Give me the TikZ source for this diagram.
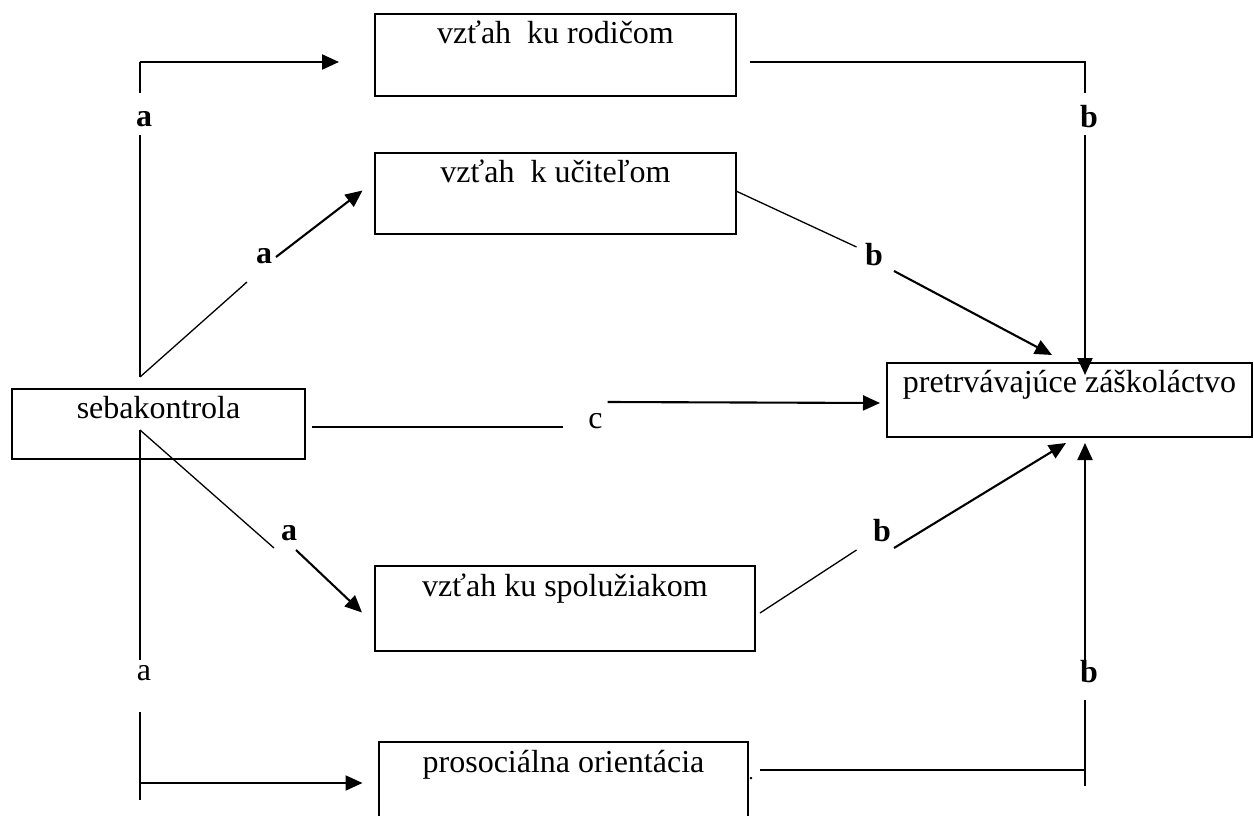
\documentclass[tikz,border=0pt]{standalone}
\usepackage{fontspec}
\setmainfont{Liberation Serif}
\usetikzlibrary{arrows.meta}
\begin{document}
\begin{tikzpicture}[x=1pt,y=-1pt,
  box/.style={draw, line width=1.7pt, inner sep=0pt},
  txt/.style={anchor=base, inner sep=0pt, font=\fontsize{32}{38}\selectfont},
  lab/.style={anchor=base, inner sep=0pt, font=\fontsize{32}{38}\selectfont\bfseries},
  labr/.style={anchor=base, inner sep=0pt, font=\fontsize{32}{38}\selectfont},
  thinln/.style={line width=1.3pt},
  arr/.style={line width=2.1pt, -{Triangle[length=17pt,width=15pt]}}]
\useasboundingbox (0,0) rectangle (1254,816);
\clip (0,0) rectangle (1254,816);

% boxes
\node[box, minimum width=361pt, minimum height=82pt] (rod) at (555.5,55) {};
\node[box, minimum width=361pt, minimum height=81pt] (uci) at (555.5,193.5) {};
\node[box, minimum width=293pt, minimum height=70pt] (seb) at (158.5,424) {};
\node[box, minimum width=365pt, minimum height=74pt] (pret) at (1069.5,400) {};
\node[box, minimum width=380pt, minimum height=85pt] (spol) at (565,608.5) {};
\node[box, minimum width=369pt, minimum height=88pt] (pros) at (563.5,786) {};

% box texts
\node[txt] (rodT) at ([yshift=-30pt]rod.north) {vzťah~ ku rodičom};
\node[txt] (uciT) at ([yshift=-30pt]uci.north) {vzťah~ k učiteľom};
\node[txt] (sebT) at ([yshift=-30pt]seb.north) {sebakontrola};
\node[txt] (pretT) at ([yshift=-30pt]pret.north) {pretrvávajúce záškoláctvo};
\node[txt] (spolT) at ([yshift=-31pt]spol.north) {vzťah ku spolužiakom};
\node[txt] (prosT) at ([yshift=-31pt]pros.north) {prosociálna orientácia};
\node[anchor=base, inner sep=0pt, font=\fontsize{20}{24}\selectfont] (dot) at (751,779) {.};

% path labels
\node[lab] (la1) at (144,127) {a};
\node[lab] (la2) at (264,263) {a};
\node[lab] (la3) at (289,540) {a};
\node[labr] (la4) at (144,680) {a};
\node[labr] (lc) at (595.5,428) {c};
\node[lab] (lb1) at (1089,128) {b};
\node[lab] (lb2) at (874,265) {b};
\node[lab] (lb3) at (882,541) {b};
\node[lab] (lb4) at (1089,682) {b};

% coordinates
\coordinate (j1) at (140,377);
\coordinate (j2) at (140,430);
\coordinate (a1s) at (140,135);
\coordinate (a1e) at (140,93);
\coordinate (a1c) at (140,62);
\coordinate (a1t) at (339,62);
\coordinate (a2e) at (247,282);
\coordinate (a2s) at (276,257);
\coordinate (a2t) at (362.5,190.5);
\coordinate (cs) at (312,427);
\coordinate (ce) at (563,427);
\coordinate (c2s) at (607.7,402);
\coordinate (c2t) at (880,403);
\coordinate (a3e) at (274,548);
\coordinate (a3s) at (296,550);
\coordinate (a3t) at (362,612.5);
\coordinate (a4e) at (140,660);
\coordinate (a4s) at (140,712);
\coordinate (a4b) at (140,800);
\coordinate (a4c) at (140,783);
\coordinate (a4t) at (362.5,783);
\coordinate (b1s) at (750,62);
\coordinate (b1c) at (1085,62);
\coordinate (b1e) at (1085,93);
\coordinate (b1r) at (1085,135);
\coordinate (b1t) at (1085,375);
\coordinate (b2s) at (736,191);
\coordinate (b2e) at (856.5,247);
\coordinate (b2r) at (894,271);
\coordinate (b2t) at (1052,355);
\coordinate (b3s) at (760,613);
\coordinate (b3e) at (856.5,550);
\coordinate (b3r) at (894,548);
\coordinate (b3t) at (1066,443);
\coordinate (b4s) at (760,770);
\coordinate (b4c) at (1085,770);
\coordinate (b4b) at (1085,786);
\coordinate (b4e) at (1085,700);
\coordinate (b4r) at (1085,660);
\coordinate (b4t) at (1085,443);

% connectors
\draw[thinln] (j1) -- (a1s);
\draw[thinln] (a1e) -- (a1c);
\draw[arr] (a1c) -- (a1t);

\draw[thinln] (j1) -- (a2e);
\draw[arr] (a2s) -- (a2t);

\draw[thinln] (cs) -- (ce);
\draw[arr] (c2s) -- (c2t);

\draw[thinln] (j2) -- (a3e);
\draw[arr] (a3s) -- (a3t);

\draw[thinln] (j2) -- (a4e);
\draw[thinln] (a4s) -- (a4b);
\draw[arr] (a4c) -- (a4t);

\draw[thinln] (b1s) -- (b1c) -- (b1e);
\draw[arr] (b1r) -- (b1t);

\draw[thinln] (b2s) -- (b2e);
\draw[arr] (b2r) -- (b2t);

\draw[thinln] (b3s) -- (b3e);
\draw[arr] (b3r) -- (b3t);

\draw[thinln] (b4s) -- (b4c);
\draw[thinln] (b4b) -- (b4e);
\draw[arr] (b4r) -- (b4t);
\end{tikzpicture}
\end{document}
